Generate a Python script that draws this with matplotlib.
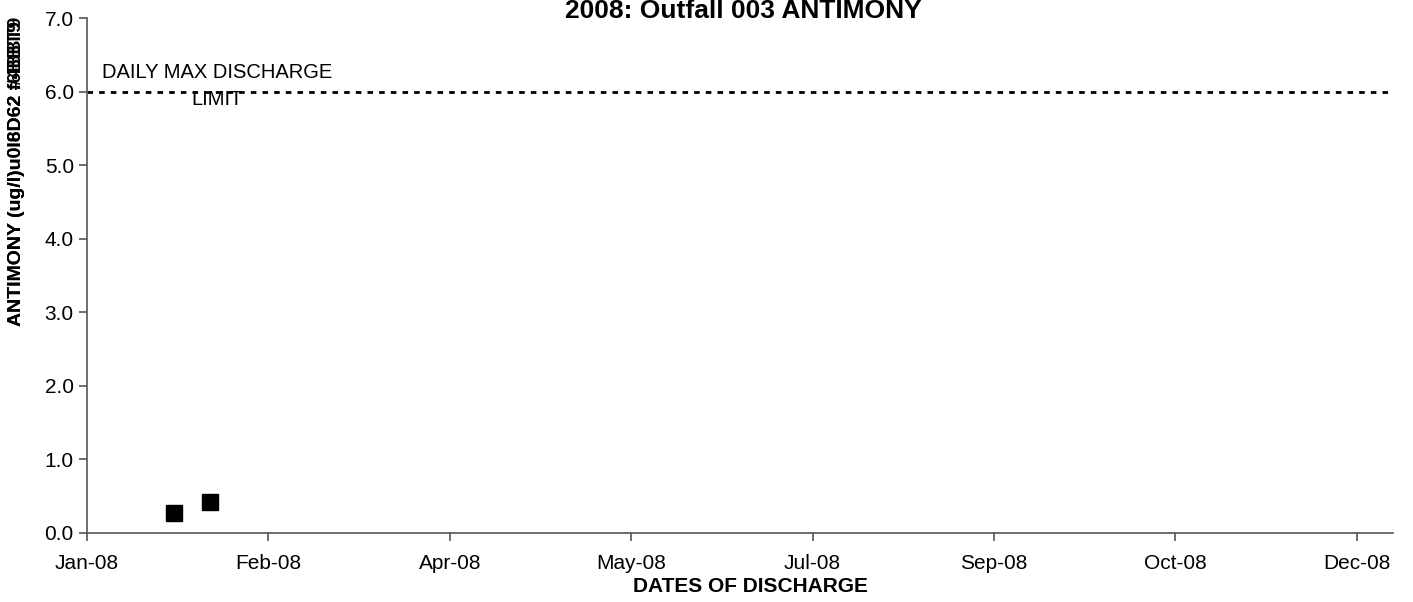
import matplotlib
matplotlib.use('Agg')
import matplotlib.pyplot as plt
import datetime as dt

plt.rcParams['font.family'] = ['Liberation Sans', 'DejaVu Sans']

# data
sample_dates = [dt.date(2008, 1, 25), dt.date(2008, 2, 4)]
antimony = [0.27, 0.42]
limit_value = 6.0
tick_dates = [dt.date(2008, 1, 1) + dt.timedelta(days=50 * i) for i in range(8)]
tick_labels = [d.strftime('%b-%y') for d in tick_dates]
y_ticks = [0.0, 1.0, 2.0, 3.0, 4.0, 5.0, 6.0, 7.0]

fig = plt.figure(figsize=(14.13, 6.02), dpi=100)
ax = fig.add_axes([87 / 1413, 1 - 532.7 / 602, (1393 - 87) / 1413, (532.7 - 18) / 602])

x0 = dt.date(2008, 1, 1)
x1 = x0 + dt.timedelta(days=360)
ax.set_xlim(x0, x1)
ax.set_ylim(0, 7)

ax.plot(sample_dates, antimony, linestyle='none', marker='s', markersize=11,
        color='black', clip_on=False)
ax.axhline(limit_value, color='black', linestyle=(0, (2, 2.2)), linewidth=2)

ax.text(dt.date(2008, 1, 1) + dt.timedelta(days=36.5), 6.075, 'DAILY MAX DISCHARGE\nLIMIT',
        ha='center', va='center', fontsize=14.5, linespacing=1.55)

ax.set_xticks(tick_dates)
ax.set_xticklabels(tick_labels)
ax.set_yticks(y_ticks)
ax.set_yticklabels(['%.1f' % v for v in y_ticks])

for s in ['top', 'right']:
    ax.spines[s].set_visible(False)
for s in ['left', 'bottom']:
    ax.spines[s].set_color('#555555')
    ax.spines[s].set_linewidth(1.2)
ax.tick_params(direction='out', length=6, width=1.2, color='#555555',
               labelsize=15, labelcolor='black')
ax.tick_params(axis='x', pad=9)

fig.text(743 / 1413, 1 - 11 / 602, '2008: Outfall 003 ANTIMONY', ha='center', va='center',
         fontsize=19, fontweight='bold')
fig.text(750 / 1413, 1 - 587 / 602, 'DATES OF DISCHARGE', ha='center', va='center',
         fontsize=15, fontweight='bold')

# garbled overlapping axis title as in the original
for lbl in ['ANTIMONY (ug/l)u0I6D62 #4BBT9', 'ANTIMONY (ug/l)u0l8D62 f6BBT9']:
    fig.text(17 / 1413, 1 - 326 / 602, lbl, ha='center', va='bottom', rotation=90,
             fontsize=14, fontweight='bold')

fig.savefig('out.png', dpi=100)
plt.close(fig)
